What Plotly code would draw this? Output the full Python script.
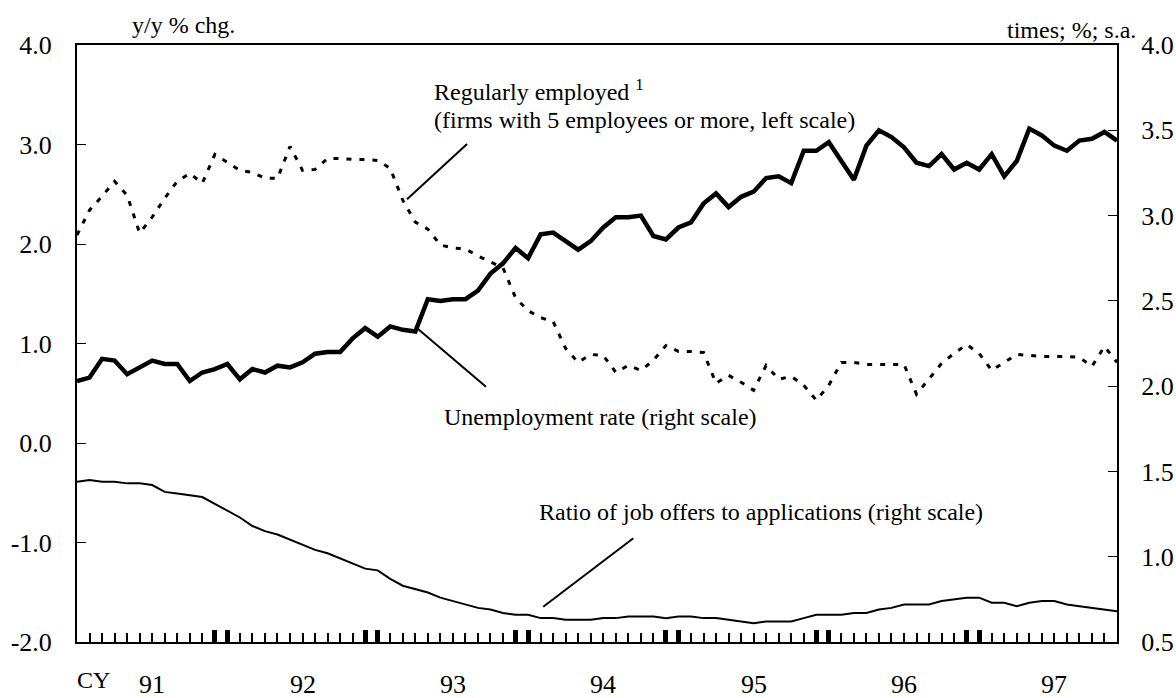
import plotly.graph_objects as go

# Monthly observations, Jan 1991 (index 0) .. Dec 1997 (index 83)
months = list(range(84))

# Regularly employed, y/y % chg. (left scale)
regular = [2.09, 2.34, 2.48, 2.63, 2.49, 2.11, 2.27, 2.46, 2.63, 2.71, 2.61, 2.90,
           2.82, 2.74, 2.72, 2.66, 2.66, 2.98, 2.74, 2.75, 2.86, 2.86, 2.85, 2.85,
           2.84, 2.76, 2.44, 2.22, 2.15, 1.99, 1.96, 1.95, 1.88, 1.82, 1.76, 1.46,
           1.33, 1.26, 1.22, 0.95, 0.81, 0.89, 0.88, 0.71, 0.78, 0.73, 0.83, 0.98,
           0.92, 0.92, 0.91, 0.60, 0.68, 0.61, 0.53, 0.78, 0.64, 0.67, 0.58, 0.43,
           0.58, 0.81, 0.81, 0.79, 0.79, 0.79, 0.79, 0.49, 0.65, 0.80, 0.90, 0.99,
           0.90, 0.73, 0.81, 0.89, 0.88, 0.87, 0.87, 0.87, 0.86, 0.77, 0.97, 0.81]

# Unemployment rate, % (right scale)
unemp = [2.03, 2.05, 2.16, 2.15, 2.07, 2.11, 2.15, 2.13, 2.13, 2.03, 2.08, 2.10,
         2.13, 2.04, 2.10, 2.08, 2.12, 2.11, 2.14, 2.19, 2.20, 2.20, 2.28, 2.34,
         2.29, 2.35, 2.33, 2.32, 2.51, 2.50, 2.51, 2.51, 2.56, 2.66, 2.72, 2.81,
         2.75, 2.89, 2.90, 2.85, 2.80, 2.85, 2.93, 2.99, 2.99, 3.00, 2.88, 2.86,
         2.93, 2.96, 3.07, 3.13, 3.05, 3.11, 3.14, 3.22, 3.23, 3.19, 3.38, 3.38,
         3.43, 3.32, 3.21, 3.41, 3.50, 3.46, 3.40, 3.31, 3.29, 3.36, 3.27, 3.31,
         3.27, 3.36, 3.23, 3.32, 3.51, 3.47, 3.41, 3.38, 3.44, 3.45, 3.49, 3.44]

# Ratio of job offers to applications, times (right scale)
jobs = [1.44, 1.45, 1.44, 1.44, 1.43, 1.43, 1.42, 1.38, 1.37, 1.36, 1.35, 1.31,
        1.27, 1.23, 1.18, 1.15, 1.13, 1.10, 1.07, 1.04, 1.02, 0.99, 0.96, 0.93,
        0.92, 0.87, 0.83, 0.81, 0.79, 0.76, 0.74, 0.72, 0.70, 0.69, 0.67, 0.66,
        0.66, 0.64, 0.64, 0.63, 0.63, 0.63, 0.64, 0.64, 0.65, 0.65, 0.65, 0.64,
        0.65, 0.65, 0.64, 0.64, 0.63, 0.62, 0.61, 0.62, 0.62, 0.62, 0.64, 0.66,
        0.66, 0.66, 0.67, 0.67, 0.69, 0.70, 0.72, 0.72, 0.72, 0.74, 0.75, 0.76,
        0.76, 0.73, 0.73, 0.71, 0.73, 0.74, 0.74, 0.72, 0.71, 0.70, 0.69, 0.68]

years = ["91", "92", "93", "94", "95", "96", "97"]
year_mid = [6, 18, 30, 42, 54, 66, 78]
year_edge_ticks = [0, 11, 12, 23, 24, 35, 36, 47, 48, 59, 60, 71, 72, 83]

left_ticks = [-2, -1, 0, 1, 2, 3, 4]
left_labels = ["-2.0", "-1.0", "0.0", "1.0", "2.0", "3.0", "4.0"]
right_ticks = [0.5, 1.0, 1.5, 2.0, 2.5, 3.0, 3.5, 4.0]
right_labels = ["0.5", "1.0", "1.5", "2.0", "2.5", "3.0", "3.5", "4.0"]

FONT = "Liberation Serif"
FS = 24
NUM_FS = 26

fig = go.Figure()
fig.add_trace(go.Scatter(x=months, y=regular, mode="lines", xaxis="x", yaxis="y",
                         line=dict(color="black", width=3, dash="5px,8px"),
                         name="Regularly employed"))
fig.add_trace(go.Scatter(x=months, y=unemp, mode="lines", xaxis="x", yaxis="y2",
                         line=dict(color="black", width=4.5),
                         name="Unemployment rate"))
# drawn against the overlaid x-axis (same range) that carries the year-edge ticks
fig.add_trace(go.Scatter(x=months, y=jobs, mode="lines", xaxis="x2", yaxis="y2",
                         line=dict(color="black", width=2),
                         name="Ratio of job offers to applications"))

axis_common = dict(showgrid=False, zeroline=False, showline=True, linecolor="black",
                   linewidth=2, ticks="inside", tickcolor="black", automargin=False)

fig.update_layout(
    width=1176, height=698,
    margin=dict(l=77, r=59, t=45, b=56),
    paper_bgcolor="white", plot_bgcolor="white",
    showlegend=False,
    font=dict(family=FONT, size=FS, color="black"),
    xaxis=dict(axis_common, range=[0, 83], tickmode="array", tickvals=months,
               showticklabels=False, ticklen=9, tickwidth=1.5, mirror=True),
    xaxis2=dict(range=[0, 83], overlaying="x", anchor="y", side="bottom",
                tickmode="array", tickvals=year_edge_ticks, showticklabels=False,
                ticks="inside", ticklen=12, tickwidth=4.5, tickcolor="black",
                showline=False, showgrid=False, zeroline=False, automargin=False),
    yaxis=dict(axis_common, range=[-2, 4], tickmode="array", tickvals=left_ticks,
               ticktext=left_labels, ticklen=9, tickwidth=1.2, ticklabelstandoff=18,
               tickfont=dict(size=NUM_FS)),
    yaxis2=dict(axis_common, range=[0.5, 4.0], tickmode="array", tickvals=right_ticks,
                ticktext=right_labels, ticklen=9, tickwidth=1.2, overlaying="y",
                side="right", ticklabelstandoff=17, tickfont=dict(size=NUM_FS)),
)

annotations = []
for yr, pos in zip(years, year_mid):
    annotations.append(dict(x=pos, xref="x", y=-0.072, yref="paper", text=yr,
                            showarrow=False, xanchor="center", yanchor="middle",
                            font=dict(size=NUM_FS)))
annotations += [
    dict(x=0.0154, xref="paper", y=-0.064, yref="paper", text="CY", showarrow=False,
         xanchor="center", yanchor="middle"),
    dict(x=0.102, xref="paper", y=1.034, yref="paper", text="y/y % chg.", showarrow=False,
         xanchor="center", yanchor="middle"),
    dict(x=1.0202, xref="paper", y=1.025, yref="paper", text="times; %; s.a.", showarrow=False,
         xanchor="right", yanchor="middle"),
    dict(x=28.3, xref="x", y=3.548, yref="y", text="Regularly employed <sup>1</sup>",
         showarrow=False, xanchor="left", yanchor="middle"),
    dict(x=28.3, xref="x", y=3.251, yref="y",
         text="(firms with 5 employees or more, left scale)",
         showarrow=False, xanchor="left", yanchor="middle"),
    dict(x=29.1, xref="x", y=0.261, yref="y", text="Unemployment rate (right scale)",
         showarrow=False, xanchor="left", yanchor="middle"),
    dict(x=36.7, xref="x", y=-0.698, yref="y",
         text="Ratio of job offers to applications (right scale)",
         showarrow=False, xanchor="left", yanchor="middle"),
]
fig.update_layout(annotations=annotations)

leaders = [
    (26.34, 2.45, 31.13, 3.005),
    (27.24, 1.143, 32.64, 0.566),
    (37.21, -1.645, 44.40, -0.958),
]
for x0, y0, x1, y1 in leaders:
    fig.add_shape(type="line", xref="x", yref="y", x0=x0, y0=y0, x1=x1, y1=y1,
                  line=dict(color="black", width=2))

fig.write_html(
    "out.html",
    config={"displayModeBar": False},
    post_script="document.body.style.margin='0';document.body.style.overflow='hidden';",
)
